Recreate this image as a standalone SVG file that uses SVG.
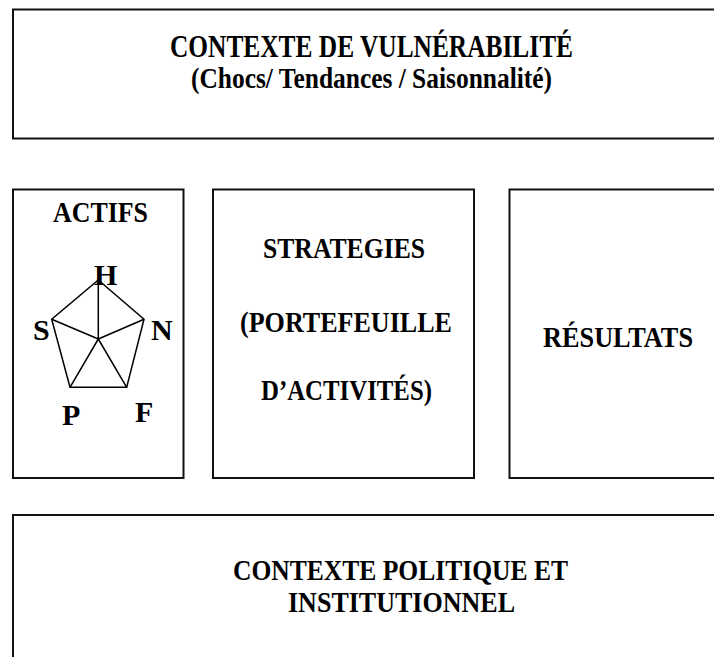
<svg xmlns="http://www.w3.org/2000/svg" width="714" height="657" viewBox="0 0 714 657">
<style>
.box{fill:#fff;stroke:#111;stroke-width:2}
.t{font-family:"Liberation Serif","Times New Roman",serif;font-weight:bold;fill:#000;font-size:30px}
.big{font-size:32px}
.pl{fill:none;stroke:#000;stroke-width:1.5;stroke-linejoin:miter}
</style>
<rect width="714" height="657" fill="#fff"/>
<g id="vulnerabilite">
<rect class="box" x="13" y="9.5" width="710" height="129"/>
<text class="t big" x="170" y="57" textLength="403" lengthAdjust="spacingAndGlyphs">CONTEXTE DE VULNÉRABILITÉ</text>
<text class="t" x="191" y="88" textLength="361" lengthAdjust="spacingAndGlyphs">(Chocs/ Tendances / Saisonnalité)</text>
</g>
<g id="actifs">
<rect class="box" x="13" y="189.5" width="170.5" height="288.5"/>
<text class="t" x="53" y="222" textLength="95" lengthAdjust="spacingAndGlyphs">ACTIFS</text>
<polygon class="pl" points="98.3,280 144,319.3 126.7,387.3 70,387.3 51.7,319.3"/>
<path class="pl" d="M98.3,339 L98.3,280 M98.3,339 L144,319.3 M98.3,339 L126.7,387.3 M98.3,339 L70,387.3 M98.3,339 L51.7,319.3"/>
<text class="t" x="94" y="285" font-size="29">H</text>
<text class="t" x="33" y="340" font-size="29">S</text>
<text class="t" x="151" y="340" font-size="29">N</text>
<text class="t" x="62" y="425" font-size="29">P</text>
<text class="t" x="135" y="422" font-size="29">F</text>
</g>
<g id="strategies">
<rect class="box" x="213" y="189.5" width="261" height="288.5"/>
<text class="t" x="263" y="258" textLength="162" lengthAdjust="spacingAndGlyphs">STRATEGIES</text>
<text class="t" x="240" y="332" textLength="212" lengthAdjust="spacingAndGlyphs">(PORTEFEUILLE</text>
<text class="t" x="261" y="400" textLength="171" lengthAdjust="spacingAndGlyphs">D’ACTIVITÉS)</text>
</g>
<g id="resultats">
<rect class="box" x="509.5" y="189.5" width="214" height="288.5"/>
<text class="t" x="543" y="347" textLength="150" lengthAdjust="spacingAndGlyphs">RÉSULTATS</text>
</g>
<g id="politique">
<rect class="box" x="13" y="515" width="710" height="160"/>
<text class="t" x="233" y="580" font-size="31" textLength="335" lengthAdjust="spacingAndGlyphs">CONTEXTE POLITIQUE ET</text>
<text class="t" x="288" y="612" font-size="31" textLength="227" lengthAdjust="spacingAndGlyphs">INSTITUTIONNEL</text>
</g>
<g id="connectors"></g>
</svg>
